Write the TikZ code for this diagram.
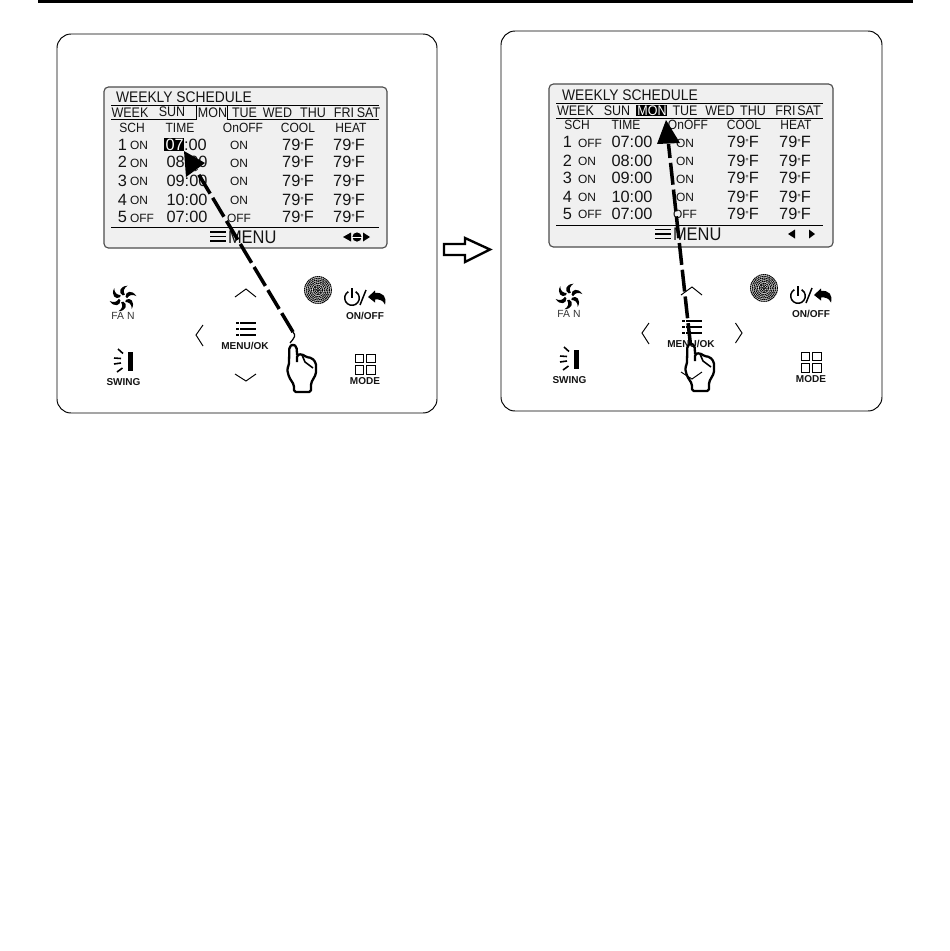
\documentclass[tikz,border=0pt]{standalone}
\usepackage{fontspec}
\setmainfont{Liberation Sans}
\newfontfamily\scr[FakeStretch=0.9]{Liberation Sans}
\newcounter{tn}
\newcommand\T[4]{\stepcounter{tn}\node[#1] (t\arabic{tn}) at (#2,#3) {#4};}
\newcommand\Deg{{\raisebox{1.1pt}{\fontsize{5}{5}\selectfont °}}}
\tikzset{
  x=0.02cm,y=-0.02cm,
  txt/.style={inner sep=0,outer sep=0,anchor=base,text=black!92},
  ttl/.style={txt,anchor=base west,font=\scr\fontsize{8.75}{9}\selectfont},
  day/.style={txt,font=\scr\fontsize{7.9}{8}\selectfont},
  hdr/.style={txt,font=\scr\fontsize{7.6}{8}\selectfont},
  num/.style={txt,font=\fontsize{9.3}{10}\selectfont},
  sml/.style={txt,font=\fontsize{6.8}{8}\selectfont},
  mnu/.style={txt,anchor=base west,font=\scr\fontsize{10.4}{11}\selectfont},
  lbl/.style={txt,font=\fontsize{5.7}{6}\bfseries\selectfont},
  fanl/.style={txt,font=\fontsize{5.9}{6}\selectfont,text=black!80},
  panel/.style={draw=black,line width=0.55pt,rounded corners=8pt},
  lcd/.style={draw=black!70,fill=black!6,line width=0.65pt,rounded corners=2.5pt},
  rule/.style={draw=black,line width=0.5pt},
  chev/.style={draw=black,line width=0.55pt},
  ico/.style={draw=black,line width=0.75pt},
  dasharrow/.style={draw=black,line width=2pt,dash pattern=on 12.5pt off 2.8pt},
  handline/.style={draw=black,line width=1.3pt,line join=round,rounded corners=1pt},
}
% bottom controls, drawn in left-panel coordinates
\newcommand\Controls[1]{%
  % fan
  \foreach \a in {0,60,...,300}{
    \fill[black,shift={(123,298.5)},rotate=\a,scale=1.13] (-0.3,-2.8) .. controls (-4.5,-5) and (-3,-11) .. (4,-11.3)
      .. controls (0.5,-9) and (0,-6.5) .. (1.6,-3.3) -- cycle;
  }
  \T{fanl}{123}{319}{FA N}
  % swing
  \fill[black] (127.5,352) rectangle (133,370.5);
  \draw[ico,line width=0.9pt] (118,349)--(123,353.5) (114,358)--(121,358.5) (114,364)--(121,363) (117,372)--(122.5,368);
  \T{lbl}{123.5}{385}{SWING}
  % chevrons
  \draw[chev] (235,297)--(246,289)--(256,297);
  \draw[chev] (203,325)--(196,335)--(203,346);
  \draw[chev] (235,374)--(246,381)--(256,374);
  % menu icon
  \draw[black,line width=1.6pt] (236,323)--(238.5,323) (240,323)--(256,323)
     (236,329)--(238.5,329) (240,329)--(256,329)
     (236,335)--(238.5,335) (240,335)--(256,335);
  \T{lbl}{245}{349}{MENU/OK}
  % speaker
  \foreach \r in {1.5,3.2,...,14.5}{
    \draw[black,line width=0.65pt,dash pattern=on 0.8pt off 0.3pt] (318,290) circle[radius=\r];
  }
  % power + return
  \draw[ico,line width=0.85pt] (348.35,291.68) arc[start angle=-120,end angle=-420,radius=7.3];
  \draw[ico,line width=0.85pt] (352,288)--(352,298);
  \draw[ico,line width=0.85pt] (360,305)--(366,290);
  \fill[black] (368,297)--(375,290.5)--(375,293) .. controls (383,292) and (387,297) .. (385,304.5)
     .. controls (383,300) and (379,299) .. (375,299.5) -- (375,302.5) -- cycle;
  \T{lbl}{365}{319}{ON/OFF}
  % mode
  \draw[ico,line width=0.55pt] (355,354) rectangle (363.5,362.5) (366.5,354) rectangle (375,362.5)
     (355,365.5) rectangle (363.5,374) (366.5,365.5) rectangle (375,374);
  \T{lbl}{365}{384}{MODE}
}
\newcommand\Hand{%
  \draw[handline] (297,355)--(296.7,347)--(293,344)--(289.3,347)--(289,365)--(287,369)--(289,377)--(294,385)--(294,392)--(311,392)--(311,383)--(316,374)--(316,363)--(312,358)--(306,357)--(302,354)--(297,355)--(297,362);
  \draw[handline,line width=0.9pt] (302,355)--(305,362) (305,362)--(313,368);
}
\newcommand\Rows[9]{%
  \foreach \n/\y/\s/\c in {#7}{
    \T{num}{#1}{\y}{\n}
    \T{sml,anchor=base west}{#2}{\y-0.5}{\s}
    \T{sml}{#4}{\y-0.3}{\c}
    \T{num}{#5}{\y}{79\Deg F}
    \T{num}{#6}{\y}{79\Deg F}
  }
}
\begin{document}
\begin{tikzpicture}
\useasboundingbox (0,0) rectangle (950,951);
\fill[white] (0,0) rectangle (950,951);
\draw[black,line width=2pt] (38,1) -- (913,1);

% ---------- left panel
\draw[panel] (57,34) rectangle (437,413);
\draw[lcd] (104,87) rectangle (387,248);
\T{ttl}{116}{102}{WEEKLY SCHEDULE}
\draw[rule] (111,105.3)--(379,105.3);
\draw[rule] (111,119)--(196,119)--(196,105.3);
\draw[rule] (227,105.3)--(227,119)--(379,119);
\T{day}{130}{117}{WEEK}
\T{day}{172}{116}{SUN}
\T{day}{212.5}{117}{MON}
\T{day}{244.5}{117}{TUE}
\T{day}{277.5}{117}{WED}
\T{day}{313}{117}{THU}
\T{day}{344}{117}{FRI}
\T{day}{368.5}{117}{SAT}
\T{hdr}{132}{132}{SCH}
\T{hdr}{180}{132}{TIME}
\T{hdr}{243}{132}{OnOFF}
\T{hdr}{298}{132}{COOL}
\T{hdr}{351}{132}{HEAT}
\Rows{122.5}{130}{187}{239}{298}{349}{1/150/ON/ON,2/167.5/ON/ON,3/186/ON/ON,4/205/ON/ON,5/222.7/OFF/OFF}{}{}
\fill[black] (163.5,138) rectangle (184,151);
\T{num,anchor=base west,text=white}{165.5}{150}{07}
\T{num,anchor=base west}{184}{150}{:00}
\T{num}{187}{167.5}{08:00}
\T{num}{187}{186}{09:00}
\T{num}{187}{205}{10:00}
\T{num}{187}{222.7}{07:00}
\draw[rule] (111,227.7)--(379,227.7);
\draw[black,line width=1.05pt] (210,232)--(226,232) (210,236.5)--(226,236.5) (210,241)--(226,241);
\T{mnu}{228}{243}{MENU}
\fill[black] (343,237)--(351,232.5)--(351,241.5)--cycle (370,237)--(363,232.5)--(363,241.5)--cycle;
\fill[black] (357,237) circle[radius=4.6];
\draw[white,line width=0.35pt] (352,237)--(362,237);
\Controls{l}
\Hand
\coordinate (ltip) at (184,151);
\coordinate (lb1) at (186,177);
\coordinate (lb2) at (205,163);
\coordinate (lmid) at (196,170);
\coordinate (lend) at (293,332);
\coordinate (lfing) at (290,343);
\draw[dasharrow] (lend) -- (lmid);
\fill[black] (ltip)--(lb1)--(lb2)--cycle;
\draw[black,line width=0.7pt] (lend) .. controls (296,335.5) and (295,337) .. (lfing);

% ---------- transition arrow
\draw[black,line width=1.35pt,line join=miter,fill=white] (444,244)--(465,244)--(465,238)--(490,249.5)--(465,262)--(465,255)--(444,255)--cycle;

% ---------- right panel
\draw[panel] (501,31) rectangle (882,411);
\draw[lcd] (549,84) rectangle (833,247);
\T{ttl}{562}{100}{WEEKLY SCHEDULE}
\draw[rule] (556,103)--(823,103);
\draw[rule] (556,118)--(823,118);
\T{day}{575.5}{115}{WEEK}
\T{day}{617}{115}{SUN}
\fill[black] (636,105) rectangle (667,116);
\T{day,text=white}{652}{115}{MON}
\T{day}{685}{115}{TUE}
\T{day}{720}{115}{WED}
\T{day}{753}{115}{THU}
\T{day}{785.5}{115}{FRI}
\T{day}{809}{115}{SAT}
\T{hdr}{577}{129}{SCH}
\T{hdr}{626}{129}{TIME}
\T{hdr}{688}{129}{OnOFF}
\T{hdr}{744}{129}{COOL}
\T{hdr}{796}{129}{HEAT}
\Rows{567.5}{578}{632}{685}{743}{795}{1/147.5/OFF/ON,2/166/ON/ON,3/183.5/ON/ON,4/202/ON/ON,5/219/OFF/OFF}{}{}
\T{num}{632}{147.5}{07:00}
\T{num}{632}{166}{08:00}
\T{num}{632}{183.5}{09:00}
\T{num}{632}{202}{10:00}
\T{num}{632}{219}{07:00}
\draw[rule] (556,225)--(823,225);
\draw[black,line width=1.05pt] (655,229.5)--(671,229.5) (655,234)--(671,234) (655,238.5)--(671,238.5);
\T{mnu}{673}{240}{MENU}
\fill[black] (788,234)--(795,229.5)--(795,238.5)--cycle (815,234)--(809,229.5)--(809,238.5)--cycle;
\begin{scope}[shift={(446,-2)}]
  \Controls{r}
  \draw[chev] (289.5,325)--(296,335)--(289.5,345);
\end{scope}
\begin{scope}[shift={(398,-1)}]
  \Hand
\end{scope}
\coordinate (rtip) at (666,120);
\coordinate (rb1) at (657,144);
\coordinate (rb2) at (680,143);
\coordinate (rmid) at (668.5,144);
\coordinate (rend) at (690.5,345);
\draw[dasharrow] (rend) -- (rmid);
\fill[black] (rtip)--(rb1)--(rb2)--cycle;
\end{tikzpicture}
\end{document}
